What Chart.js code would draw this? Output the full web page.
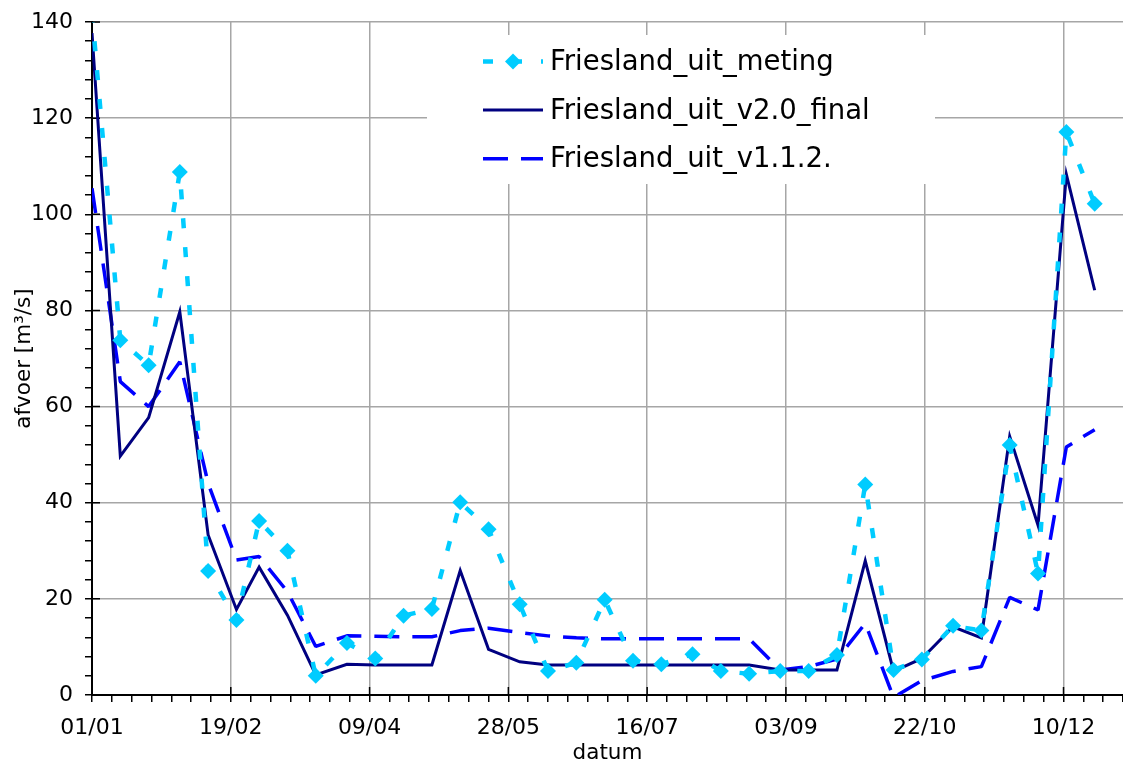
<!DOCTYPE html>
<html>
<head>
<meta charset="utf-8">
<script src="https://cdn.jsdelivr.net/npm/chart.js@4.4.1/dist/chart.umd.min.js"></script>
<style>
  html, body { margin: 0; padding: 0; background: #fff; overflow: hidden; }
  #wrap { width: 1123px; height: 761px; position: relative; }
</style>
</head>
<body>
<div id="wrap"><canvas id="afvoerChart"></canvas></div>
<script>
// decade dates (dd/mm)
const DATES = ['01/01','11/01','21/01','01/02','11/02','21/02','01/03','11/03','21/03','01/04','11/04','21/04',
  '01/05','11/05','21/05','01/06','11/06','21/06','01/07','11/07','21/07','01/08','11/08','21/08',
  '01/09','11/09','21/09','01/10','11/10','21/10','01/11','11/11','21/11','01/12','11/12','21/12'];

const METING = [142, 73.8, 68.6, 108.8, 25.8, 15.6, 36.2, 30.0, 4.0, 10.8, 7.6, 16.5,
  17.9, 40.1, 34.5, 18.9, 5.0, 6.7, 19.8, 7.1, 6.4, 8.5, 5.0, 4.4,
  5.0, 5.0, 8.3, 43.8, 5.2, 7.4, 14.4, 13.4, 52.0, 25.3, 117.1, 102.2];

const V20_FINAL = [137.7, 49.7, 57.7, 79.7, 33.3, 17.8, 26.6, 16.6, 4.2, 6.4, 6.25, 6.25,
  6.25, 25.9, 9.5, 6.9, 6.25, 6.25, 6.25, 6.25, 6.25, 6.25, 6.25, 6.25,
  5.2, 5.2, 5.2, 27.9, 4.9, 7.6, 14.2, 11.9, 53.8, 35.3, 108.3, 84.2];

const V112 = [105.4, 65.2, 60.0, 69.3, 44.0, 28.1, 28.8, 21.5, 10.1, 12.3, 12.2, 12.1,
  12.1, 13.4, 13.9, 13.0, 12.3, 11.9, 11.7, 11.7, 11.7, 11.7, 11.7, 11.7,
  5.2, 5.9, 7.5, 14.9, -0.5, 3.0, 4.9, 5.9, 20.3, 17.7, 51.6, 55.2];

const TICK_LABELS = ['01/01','19/02','09/04','28/05','16/07','03/09','22/10','10/12'];

const MONTH_START = [0, 31, 59, 90, 120, 151, 181, 212, 243, 273, 304, 334];
function dayOf(s) {
  const [d, m] = s.split('/').map(Number);
  return MONTH_START[m - 1] + d - 1;
}
const TICK_DAYS = TICK_LABELS.map(dayOf);
const X_MAX = 364;

function pts(values) {
  return DATES.map((d, i) => ({ x: dayOf(d), y: values[i] }));
}

const GRID = '#a6a6a6';
const NONE = 'rgba(0,0,0,0)';

// white legend box in the upper middle of the plot
const boxLegend = {
  id: 'boxLegend',
  afterDatasetsDraw(chart) {
    const ctx = chart.ctx;
    ctx.save();
    ctx.fillStyle = '#fff';
    ctx.fillRect(427, 35, 508, 149);
    chart.data.datasets.forEach((ds, i) => {
      const ty = 63 + i * 48.6;
      const ly = ty - 1.5;
      ctx.strokeStyle = ds.borderColor;
      ctx.lineWidth = ds.borderWidth;
      ctx.lineCap = 'butt';
      ctx.setLineDash(ds.borderDash || []);
      ctx.beginPath();
      ctx.moveTo(483, ly);
      ctx.lineTo(543, ly);
      ctx.stroke();
      ctx.setLineDash([]);
      if (ds.pointRadius) {
        const r = ds.pointRadius;
        ctx.fillStyle = ds.pointBackgroundColor;
        ctx.beginPath();
        ctx.moveTo(513 - r, ly);
        ctx.lineTo(513, ly - r);
        ctx.lineTo(513 + r, ly);
        ctx.lineTo(513, ly + r);
        ctx.closePath();
        ctx.fill();
      }
      ctx.fillStyle = '#000';
      ctx.font = '27.5px "DejaVu Sans"';
      ctx.textBaseline = 'middle';
      ctx.textAlign = 'left';
      ctx.fillText(ds.label, 550, ty);
    });
    ctx.restore();
  }
};

// major tick marks also reach a little into the plot
const innerTicks = {
  id: 'innerTicks',
  beforeDatasetsDraw(chart) {
    const { ctx, scales: { x, y }, chartArea } = chart;
    ctx.save();
    ctx.strokeStyle = '#000';
    ctx.lineWidth = 1.5;
    ctx.beginPath();
    TICK_DAYS.forEach(d => {
      const px = x.getPixelForValue(d);
      ctx.moveTo(px, chartArea.bottom);
      ctx.lineTo(px, chartArea.bottom - 8);
    });
    for (let v = 20; v <= 140; v += 20) {
      const py = y.getPixelForValue(v);
      ctx.moveTo(chartArea.left, py);
      ctx.lineTo(chartArea.left + 8, py);
    }
    ctx.stroke();
    ctx.restore();
  }
};

Chart.defaults.font.family = '"DejaVu Sans", sans-serif';
Chart.defaults.color = '#000';

new Chart(document.getElementById('afvoerChart'), {
  type: 'line',
  data: {
    datasets: [
      {
        label: 'Friesland_uit_meting',
        data: pts(METING),
        borderColor: '#00ccff',
        backgroundColor: '#00ccff',
        borderWidth: 4.5,
        borderDash: [10, 19],
        borderJoinStyle: 'bevel',
        pointStyle: 'rectRot',
        pointRadius: 8,
        pointHoverRadius: 8,
        pointBorderWidth: 0,
        pointBackgroundColor: '#00ccff',
        tension: 0,
      },
      {
        label: 'Friesland_uit_v2.0_final',
        data: pts(V20_FINAL),
        borderColor: '#000080',
        borderWidth: 3,
        borderJoinStyle: 'miter',
        pointRadius: 0,
        tension: 0,
      },
      {
        label: 'Friesland_uit_v1.1.2.',
        data: pts(V112),
        borderColor: '#0000ff',
        borderWidth: 3.5,
        borderDash: [25, 13],
        borderJoinStyle: 'bevel',
        pointRadius: 0,
        tension: 0,
      },
    ],
  },
  options: {
    responsive: true,
    maintainAspectRatio: false,
    animation: false,
    events: [],
    layout: { autoPadding: false, padding: { top: 22, right: 0, bottom: 0, left: 0 } },
    plugins: { legend: { display: false }, tooltip: { enabled: false } },
    scales: {
      x: {
        type: 'linear',
        min: 0,
        max: X_MAX,
        afterBuildTicks: s => {
          s.ticks = [];
          for (let d = 0; d <= X_MAX; d += 7) s.ticks.push({ value: d });
        },
        afterFit: s => {
          s.height = 66;
          s.paddingLeft = 0;
          s.paddingRight = 0;
        },
        ticks: {
          autoSkip: false,
          maxRotation: 0,
          padding: 13,
          color: '#000',
          font: { size: 22 },
          callback: v => {
            const i = TICK_DAYS.indexOf(v);
            return i >= 0 ? TICK_LABELS[i] : '';
          },
        },
        grid: {
          color: c => (c.tick && TICK_DAYS.includes(c.tick.value) ? GRID : NONE),
          lineWidth: 1.5,
          tickColor: '#000',
          tickLength: 7,
          tickWidth: 1.5,
        },
        border: { color: '#000', width: 2 },
        title: { display: true, text: 'datum', color: '#000', font: { size: 21.5 }, padding: { top: 0, bottom: -5.5 } },
      },
      y: {
        min: 0,
        max: 140,
        afterBuildTicks: s => {
          s.ticks = [];
          for (let v = 0; v <= 140; v += 4) s.ticks.push({ value: v });
        },
        afterFit: s => {
          s.width = 92;
          s.paddingTop = 0;
          s.paddingBottom = 0;
        },
        ticks: {
          autoSkip: false,
          padding: 12,
          color: '#000',
          font: { size: 22 },
          callback: v => (v % 20 === 0 ? String(v) : ''),
        },
        grid: {
          color: c => (c.tick && c.tick.value % 20 === 0 ? GRID : NONE),
          lineWidth: 1.5,
          tickColor: '#000',
          tickLength: 7,
          tickWidth: 1.5,
        },
        border: { color: '#000', width: 2 },
        title: { display: true, text: 'afvoer [m³/s]', color: '#000', font: { size: 21.5 }, padding: { top: 12 } },
      },
    },
  },
  plugins: [innerTicks, boxLegend],
});
</script>
</body>
</html>
